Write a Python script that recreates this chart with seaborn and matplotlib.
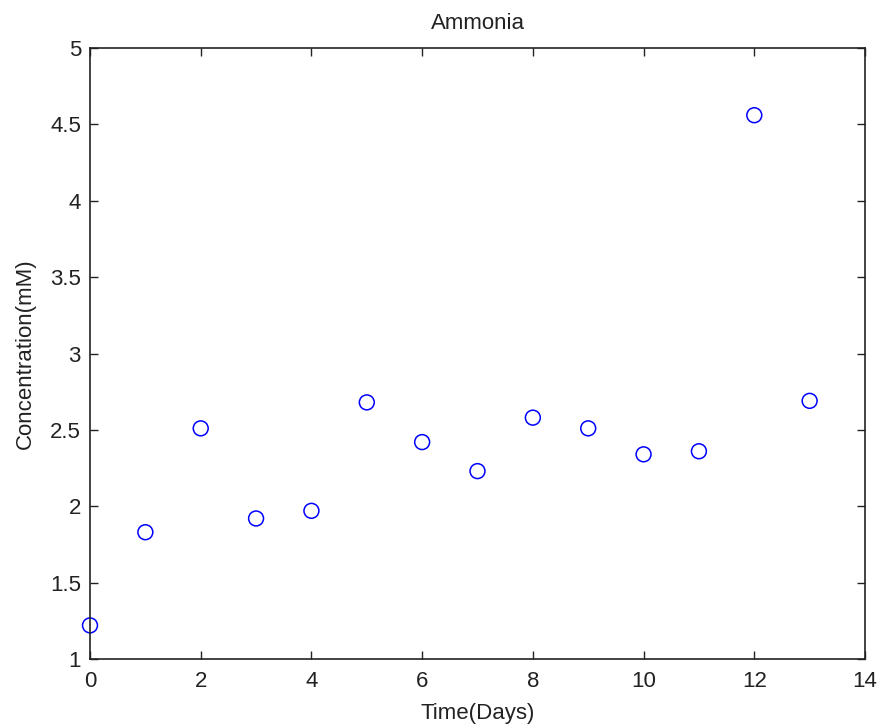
import matplotlib
matplotlib.use("Agg")
import matplotlib.pyplot as plt
import seaborn as sns
import pandas as pd

days = [0, 1, 2, 3, 4, 5, 6, 7, 8, 9, 10, 11, 12, 13]
concentration = [1.22, 1.83, 2.51, 1.92, 1.97, 2.68, 2.42, 2.23, 2.58, 2.51, 2.34, 2.36, 4.56, 2.69]
x_ticks = [0, 2, 4, 6, 8, 10, 12, 14]
y_ticks = [1, 1.5, 2, 2.5, 3, 3.5, 4, 4.5, 5]
y_tick_labels = ["1", "1.5", "2", "2.5", "3", "3.5", "4", "4.5", "5"]

sns.set_style("ticks")
plt.rcParams['font.family'] = ['Liberation Sans', 'DejaVu Sans']

df = pd.DataFrame({"Time(Days)": days, "Concentration(mM)": concentration})

fig = plt.figure(figsize=(8.79, 7.28), dpi=100)
ax = fig.add_axes([90/879, 1 - 659/728, (865-90)/879, (659-48)/728])

sns.scatterplot(data=df, x="Time(Days)", y="Concentration(mM)", ax=ax,
                marker="o", s=115, facecolor="none", edgecolor="#0000ff",
                linewidth=1.1, clip_on=False)

ax.set_xlim(0, 14)
ax.set_ylim(1, 5)
ax.set_xticks(x_ticks)
ax.set_xticklabels([str(t) for t in x_ticks])
ax.set_yticks(y_ticks)
ax.set_yticklabels(y_tick_labels)
ax.tick_params(direction="in", top=True, right=True, length=6, width=1,
               labelsize=16, colors="#222222")
ax.tick_params(axis="y", pad=6.5)
ax.tick_params(axis="x", pad=8.5)
for s in ax.spines.values():
    s.set_visible(True)
    s.set_linewidth(1.2)
    s.set_color("#222222")
ax.set_xlabel("Time(Days)", fontsize=16, color="#222222", labelpad=8)
ax.set_ylabel("Concentration(mM)", fontsize=16, color="#222222", labelpad=10)
ax.set_title("Ammonia", fontsize=16, color="#222222", pad=14)

fig.savefig("out.png", dpi=100)
